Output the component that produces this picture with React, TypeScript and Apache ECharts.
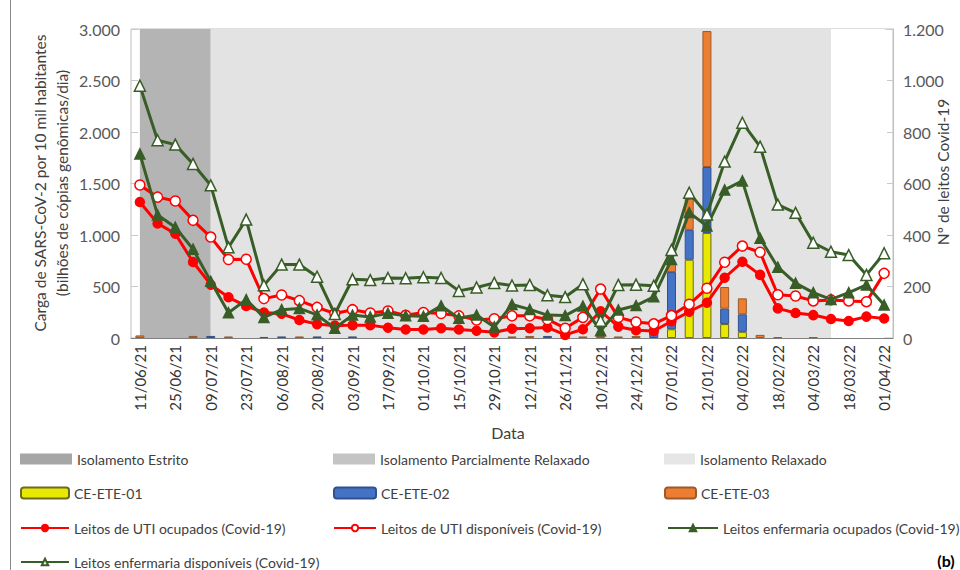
import React, { useEffect, useRef } from 'react';
import * as echarts from 'echarts';

const dates = ['11/06/21','18/06/21','25/06/21','02/07/21','09/07/21','16/07/21','23/07/21','30/07/21','06/08/21','13/08/21','20/08/21','27/08/21','03/09/21','10/09/21','17/09/21','24/09/21','01/10/21','08/10/21','15/10/21','22/10/21','29/10/21','05/11/21','12/11/21','19/11/21','26/11/21','03/12/21','10/12/21','17/12/21','24/12/21','31/12/21','07/01/22','14/01/22','21/01/22','28/01/22','04/02/22','11/02/22','18/02/22','25/02/22','04/03/22','11/03/22','18/03/22','25/03/22','01/04/22'];

// Phase boundaries (category names)
const phaseEstrito = ['11/06/21', '09/07/21'];
const phaseParcial = ['09/07/21', '11/03/22'];
const phaseRelaxado = ['11/03/22', '01/04/22'];

// Wastewater viral load (left axis), stacked bars
const ce01 = [0,0,0,0,0,0,0,0,0,0,0,0,0,0,0,0,0,0,0,0,0,0,0,0,0,0,0,0,0,0,85,760,1020,135,60,0,0,0,0,0,0,0,0];
const ce02 = [0,0,0,0,20,0,0,10,15,0,15,0,15,0,0,0,0,0,0,0,0,0,0,20,0,0,0,0,0,60,555,290,640,150,170,0,0,0,0,0,0,0,0];
const ce03 = [25,0,0,20,0,15,0,0,0,15,0,0,0,0,0,0,0,0,0,0,0,15,20,0,0,15,20,15,20,0,80,300,1320,210,155,30,8,0,8,0,0,0,0];

// Hospital beds (right axis)
const utiOcupados = [528,445,405,295,207,158,124,99,94,70,54,48,50,50,40,33,33,38,33,28,22,36,38,41,12,34,104,44,30,27,65,102,137,234,296,245,115,97,89,74,66,83,76];
const utiDisponiveis = [594,547,532,457,392,305,306,153,167,145,119,95,110,97,105,88,99,95,86,70,75,86,86,72,38,80,190,80,62,55,87,131,193,294,357,333,168,163,144,148,144,141,251];
const enfOcupados = [715,478,430,345,220,98,149,80,110,115,90,38,89,82,96,86,84,125,77,89,43,130,111,89,87,124,28,109,126,160,305,487,435,575,610,387,275,213,176,150,176,206,128];
const enfDisponiveis = [980,768,751,676,593,352,460,205,285,285,238,93,228,225,233,232,236,233,183,196,214,204,206,166,159,209,67,206,207,203,342,564,480,685,836,743,518,486,370,335,322,245,329];

const leftTicks = { min: 0, max: 3000, interval: 500 };
const rightTicks = { min: 0, max: 1200, interval: 200 };

const FONT = "Lato, 'Liberation Sans', sans-serif";
const fmt = (v: number) => String(v).replace(/\B(?=(\d{3})+(?!\d))/g, '.');
const nz = (a: number[]) => a.map((v) => (v === 0 ? '-' : v));

const RED = '#ff0000';
const GREEN = '#385d27';

export default function App() {
  const ref = useRef<HTMLDivElement>(null);
  useEffect(() => {
    if (!ref.current) return;
    const chart = echarts.init(ref.current, null, { renderer: 'svg' });

    const legendSpec: any[] = [
      { name: 'Isolamento Estrito', left: 20, top: 452, w: 52, h: 11, icon: 'rect', color: '#a6a6a6' },
      { name: 'Isolamento Parcialmente Relaxado', left: 333, top: 452, w: 42, h: 11, icon: 'rect', color: '#c4c4c4' },
      { name: 'Isolamento Relaxado', left: 664, top: 452, w: 31, h: 11, icon: 'rect', color: '#e6e6e6' },
      { name: 'CE-ETE-01', left: 20, top: 486, w: 48, h: 11 },
      { name: 'CE-ETE-02', left: 333, top: 486, w: 42, h: 11 },
      { name: 'CE-ETE-03', left: 664, top: 486, w: 31, h: 11 },
      { name: 'Leitos de UTI ocupados (Covid-19)', left: 20, top: 521, w: 48, h: 8 },
      { name: 'Leitos de UTI disponíveis (Covid-19)', left: 333, top: 521, w: 42, h: 8 },
      { name: 'Leitos enfermaria ocupados (Covid-19)', left: 667, top: 521, w: 50, h: 8 },
      { name: 'Leitos enfermaria disponíveis (Covid-19)', left: 20, top: 555, w: 48, h: 8 },
    ];

    const legends = legendSpec.map((s) => ({
      left: s.left,
      top: s.top,
      itemWidth: s.w,
      itemHeight: s.h,
      padding: 0,
      selectedMode: false,
      textStyle: { fontFamily: FONT, fontSize: 14, color: '#404040' },
      data: [s.icon ? { name: s.name, icon: s.icon, itemStyle: { color: s.color, borderWidth: 0 } } : { name: s.name }],
    }));

    const phase = (name: string, range: string[], legendColor: string, areaColor: string) => ({
      type: 'line',
      name,
      data: [],
      color: legendColor,
      silent: true,
      z: 0,
      markArea: {
        silent: true,
        itemStyle: { color: areaColor },
        data: [[{ xAxis: range[0] }, { xAxis: range[1] }]],
      },
    });

    const bar = (name: string, data: number[], color: string, border: string) => ({
      type: 'bar',
      name,
      data: nz(data),
      stack: 'ce',
      yAxisIndex: 0,
      barWidth: 9,
      itemStyle: { color, borderColor: border, borderWidth: 1 },
      z: 3,
    });

    const line = (name: string, data: number[], color: string, symbol: string, filled: boolean, size: number, z: number) => ({
      type: 'line',
      name,
      data,
      yAxisIndex: 1,
      symbol,
      symbolSize: size,
      showSymbol: true,
      lineStyle: { color, width: 3 },
      itemStyle: { color: filled ? color : '#ffffff', borderColor: color, borderWidth: 1.5 },
      z,
    });

    chart.setOption({
      animation: false,
      backgroundColor: '#ffffff',
      grid: { left: 131, right: 67, top: 29, bottom: 232, show: true, borderColor: '#bfbfbf', borderWidth: 1 },
      legend: legends,
      xAxis: {
        type: 'category',
        data: dates,
        boundaryGap: true,
        axisLine: { lineStyle: { color: '#808080', width: 1 } },
        axisTick: { alignWithLabel: true, interval: 0, length: 5, lineStyle: { color: '#808080' } },
        axisLabel: { interval: 1, rotate: 90, fontSize: 15, color: '#333333', margin: 7, fontFamily: FONT },
        splitLine: { show: false },
      },
      yAxis: [
        {
          type: 'value',
          ...leftTicks,
          axisLine: { show: false },
          axisTick: { show: false },
          axisLabel: { fontSize: 16, color: '#595959', margin: 11, fontFamily: FONT, formatter: fmt },
          splitLine: { show: true, lineStyle: { color: '#c9c9c9', type: [7, 5], width: 1 } },
        },
        {
          type: 'value',
          position: 'right',
          ...rightTicks,
          axisLine: { show: true, lineStyle: { color: '#bfbfbf' } },
          axisTick: { show: false },
          axisLabel: { fontSize: 16, color: '#595959', margin: 10, fontFamily: FONT, formatter: fmt },
          splitLine: { show: false },
        },
      ],
      graphic: [
        { type: 'line', shape: { x1: 10.5, y1: 0, x2: 10.5, y2: 570 }, style: { stroke: '#8c8c8c', lineWidth: 1 } },
        {
          type: 'text', x: 40, y: 183, rotation: Math.PI / 2,
          style: { text: 'Carga de SARS-CoV-2 por 10 mil habitantes', fontSize: 15.5, fontFamily: FONT, fill: '#404040', textAlign: 'center', textVerticalAlign: 'middle' },
        },
        {
          type: 'text', x: 62, y: 183, rotation: Math.PI / 2,
          style: { text: '(bilhões de cópias genômicas/dia)', fontSize: 15.5, fontFamily: FONT, fill: '#404040', textAlign: 'center', textVerticalAlign: 'middle' },
        },
        {
          type: 'text', x: 943, y: 172, rotation: Math.PI / 2,
          style: { text: 'Nº de leitos Covid-19', fontSize: 15.5, fontFamily: FONT, fill: '#404040', textAlign: 'center', textVerticalAlign: 'middle' },
        },
        {
          type: 'text', x: 508, y: 432,
          style: { text: 'Data', fontSize: 16, fontFamily: FONT, fill: '#404040', textAlign: 'center', textVerticalAlign: 'middle' },
        },
        {
          type: 'text', x: 946, y: 560,
          style: { text: '(b)', fontSize: 16, fontWeight: 'bold', fontFamily: FONT, fill: '#000000', textAlign: 'center', textVerticalAlign: 'middle' },
        },
      ],
      series: [
        phase('Isolamento Estrito', phaseEstrito, '#a6a6a6', '#b4b4b4'),
        phase('Isolamento Parcialmente Relaxado', phaseParcial, '#c4c4c4', '#e3e3e3'),
        phase('Isolamento Relaxado', phaseRelaxado, '#e6e6e6', '#ffffff'),
        bar('CE-ETE-01', ce01, '#e8e800', '#6b6b1e'),
        bar('CE-ETE-02', ce02, '#4472c4', '#2f528f'),
        bar('CE-ETE-03', ce03, '#ed7d31', '#9c5a2a'),
        line('Leitos de UTI ocupados (Covid-19)', utiOcupados, RED, 'circle', true, 9, 5),
        line('Leitos de UTI disponíveis (Covid-19)', utiDisponiveis, RED, 'circle', false, 10, 6),
        line('Leitos enfermaria ocupados (Covid-19)', enfOcupados, GREEN, 'triangle', true, 10, 7),
        line('Leitos enfermaria disponíveis (Covid-19)', enfDisponiveis, GREEN, 'triangle', false, 11, 8),
      ],
    });

    return () => chart.dispose();
  }, []);

  return <div ref={ref} style={{ width: 960, height: 570, position: 'absolute', left: 0, top: 0 }} />;
}
